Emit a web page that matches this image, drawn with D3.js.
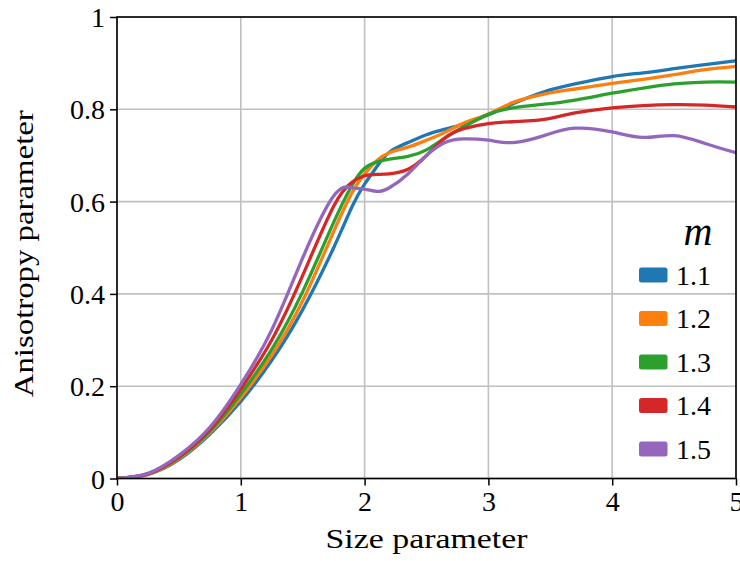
<!DOCTYPE html>
<html><head><meta charset="utf-8">
<script src="https://cdn.jsdelivr.net/npm/d3@7"></script>
<style>body{margin:0;background:#fff}svg{display:block}</style>
</head><body>
<svg id="c" width="740" height="561"></svg>
<script>
const xs = [0,0.25,0.5,0.75,1,1.25,1.5,1.75,1.9,2,2.1,2.2,2.35,2.5,2.65,2.8,3,3.2,3.45,3.7,4,4.25,4.5,4.75,5];
const m11 = [0,.009,.041,.096,.167,.256,.366,.500,.590,.638,.676,.707,.728,.745,.757,.768,.788,.812,.838,.855,.871,.879,.888,.897,.905];
const m12 = [0,.009,.043,.099,.175,.267,.385,.535,.620,.660,.689,.706,.718,.733,.750,.770,.790,.815,.833,.844,.856,.865,.875,.886,.893];
const m13 = [0,.010,.045,.102,.183,.280,.405,.555,.636,.672,.686,.692,.698,.712,.738,.762,.789,.803,.811,.820,.835,.846,.855,.859,.859];
const m14 = [0,.010,.047,.106,.194,.300,.440,.590,.642,.656,.659,.660,.670,.700,.738,.758,.769,.773,.778,.792,.803,.808,.810,.809,.805];
const m15 = [0,.011,.050,.111,.204,.322,.478,.612,.630,.627,.622,.630,.660,.700,.728,.736,.733,.728,.743,.759,.751,.739,.743,.726,.706];
const seriesNames = ["1.1","1.2","1.3","1.4","1.5"];
const seriesValues = [m11,m12,m13,m14,m15];
const colors = ["#1f77b4","#ff7f0e","#2ca02c","#d62728","#9467bd"];
const xTicks = [0,1,2,3,4,5];
const yTicks = [0,0.2,0.4,0.6,0.8,1];
const yTickLabels = ["0","0.2","0.4","0.6","0.8","1"];

const svg = d3.select("#c");
const L = 117, R = 736, T = 17, B = 478.5;
const x = d3.scaleLinear().domain([0,5]).range([L,R]);
const y = d3.scaleLinear().domain([0,1]).range([B,T]);
const font = "'Liberation Serif','Times New Roman',serif";

// grid
const g = svg.append("g");
g.selectAll(".gx").data(xTicks).join("line")
  .attr("x1",d=>x(d)).attr("x2",d=>x(d)).attr("y1",T).attr("y2",B)
  .attr("stroke","#c0c0c0").attr("stroke-width",1.6);
g.selectAll(".gy").data(yTicks).join("line")
  .attr("x1",L).attr("x2",R).attr("y1",d=>y(d)).attr("y2",d=>y(d))
  .attr("stroke","#c0c0c0").attr("stroke-width",1.6);

// lines
const line = d3.line().x((d,i)=>x(xs[i])).y(d=>y(d)).curve(d3.curveNatural);
svg.append("clipPath").attr("id","clp").append("rect")
  .attr("x",L).attr("y",T).attr("width",R-L).attr("height",B-T);
svg.append("g").attr("clip-path","url(#clp)").selectAll("path").data(seriesValues).join("path")
  .attr("d",d=>line(d)).attr("fill","none")
  .attr("stroke",(d,i)=>colors[i]).attr("stroke-width",3.3)
  .attr("stroke-linejoin","round").attr("stroke-linecap","round");

// axes
const xAxis = d3.axisBottom(x).tickValues(xTicks).tickSize(7).tickPadding(5).tickFormat(d3.format("d"));
const yAxis = d3.axisLeft(y).tickValues(yTicks).tickSize(7).tickPadding(5).tickFormat((d,i)=>yTickLabels[i]);
const ax = svg.append("g").attr("transform",`translate(0,${B})`).call(xAxis);
const ay = svg.append("g").attr("transform",`translate(${L},0)`).call(yAxis);
[ax,ay].forEach(a=>{
  a.select(".domain").remove();
  a.selectAll(".tick line").attr("stroke","#000").attr("stroke-width",1.5);
  a.selectAll("text").attr("font-family",font).attr("font-size",28).attr("fill","#000");
});
ax.selectAll("text").attr("dy","0.72em");
ay.selectAll("text").attr("dy","0.34em");

// frame
svg.append("rect").attr("x",L).attr("y",T).attr("width",R-L).attr("height",B-T)
  .attr("fill","none").attr("stroke","#000").attr("stroke-width",1.6);

// axis labels
svg.append("text").attr("x",(L+R)/2).attr("y",548).attr("text-anchor","middle")
  .attr("font-family",font).attr("font-size",28).attr("textLength",202).attr("lengthAdjust","spacingAndGlyphs")
  .text("Size parameter");
svg.append("text").attr("transform",`translate(33,${(T+B)/2+6}) rotate(-90)`).attr("text-anchor","middle")
  .attr("font-family",font).attr("font-size",28).attr("textLength",287).attr("lengthAdjust","spacingAndGlyphs")
  .text("Anisotropy parameter");

// legend
const lg = svg.append("g");
lg.append("text").attr("x",698).attr("y",245).attr("text-anchor","middle")
  .attr("font-family",font).attr("font-style","italic").attr("font-size",40).text("m");
const items = lg.selectAll(".it").data(seriesNames).join("g")
  .attr("transform",(d,i)=>`translate(0,${275+i*43.5})`);
items.append("rect").attr("x",639).attr("y",-7.5).attr("width",28.5).attr("height",15)
  .attr("rx",2.5).attr("fill",(d,i)=>colors[i]);
items.append("text").attr("x",676).attr("y",0).attr("dy","0.35em")
  .attr("font-family",font).attr("font-size",28).text(d=>d);
</script>
</body></html>
